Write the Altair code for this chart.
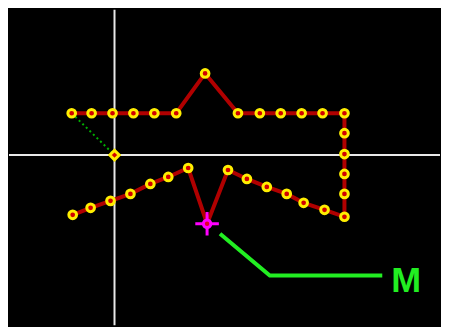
import altair as alt
import pandas as pd

# Path points (data units: origin at the crosshair, y upward)
path_x = [-43, -23, -2, 19, 40, 62, 91, 124, 146, 167, 188, 209, 231, 231, 231, 231, 231, 231,
          211, 190, 173, 153, 133, 114, 93, 74, 54, 36, 16, -4, -24, -42]
path_y = [42, 42, 42, 42, 42, 42, 82, 42, 42, 42, 42, 42, 42, 22, 1, -19, -39, -62,
          -55, -48, -39, -32, -24, -15, -69, -13, -22, -29, -39, -46, -53, -60]
marked_index = 24  # the "M" point

cursor_x = [0]
cursor_y = [0]
link_x = [-43, 0]
link_y = [42, 0]
callout_x = [106, 156, 269]
callout_y = [-79, -121, -121]
label_text = ["M"]
label_x = [293]
label_y = [-127]

X_DOM = [-106, 327]
Y_DOM = [-171, 146]

path_df = pd.DataFrame({"x": path_x, "y": path_y, "order": list(range(len(path_x)))})
pts_df = path_df.drop(index=marked_index)
cursor_df = pd.DataFrame({"x": cursor_x, "y": cursor_y})
m_df = path_df.iloc[[marked_index]]
link_df = pd.DataFrame({"x": link_x, "y": link_y, "order": [0, 1]})
callout_df = pd.DataFrame({"x": callout_x, "y": callout_y, "order": [0, 1, 2]})
label_df = pd.DataFrame({"x": label_x, "y": label_y, "t": label_text})

xs = alt.Scale(domain=X_DOM, nice=False, zero=False)
ys = alt.Scale(domain=Y_DOM, nice=False, zero=False)

def X():
    return alt.X("x:Q", scale=xs, axis=None)

def Y():
    return alt.Y("y:Q", scale=ys, axis=None)

vrule = alt.Chart(cursor_df).mark_rule(color="#e8e8e8", strokeWidth=2).encode(x=X())
hrule = alt.Chart(cursor_df).mark_rule(color="#e8e8e8", strokeWidth=2).encode(y=Y())

link = alt.Chart(link_df).mark_line(color="#00b000", strokeWidth=2, strokeDash=[2, 3]).encode(
    x=X(), y=Y(), order="order:Q")

path = alt.Chart(path_df).mark_line(color="#b00000", strokeWidth=4).encode(
    x=X(), y=Y(), order="order:Q")

pts = alt.Chart(pts_df).mark_point(shape="circle", filled=True, fill="#d00000",
                                   stroke="#ffee00", strokeWidth=3, size=60, opacity=1).encode(
    x=X(), y=Y())
cur = alt.Chart(cursor_df).mark_point(shape="diamond", filled=True, fill="#d00000",
                                      stroke="#ffee00", strokeWidth=3, size=90, opacity=1).encode(
    x=X(), y=Y())

m_cross = alt.Chart(m_df).mark_point(shape="M -1 0 L 1 0 M 0 -1 L 0 1", stroke="#ff00ff",
                                     strokeWidth=3, size=560, opacity=1, filled=False).encode(
    x=X(), y=Y())
m_disc = alt.Chart(m_df).mark_point(shape="circle", filled=True, color="#ff00ff",
                                    size=110, opacity=1).encode(x=X(), y=Y())
m_dot = alt.Chart(m_df).mark_point(shape="circle", filled=True, color="#e00020",
                                   size=20, opacity=1).encode(x=X(), y=Y())

callout = alt.Chart(callout_df).mark_line(color="#22ee22", strokeWidth=4).encode(
    x=X(), y=Y(), order="order:Q")
label = alt.Chart(label_df).mark_text(color="#22ee22", font="Liberation Sans", fontWeight="bold",
                                      fontSize=36, align="center", baseline="middle").encode(
    x=X(), y=Y(), text="t:N")

chart = alt.layer(vrule, hrule, link, path, pts, cur, m_cross, m_disc, m_dot, callout, label).properties(
    width=433, height=317, padding=0, background="black"
).configure_view(stroke=None, fill="black")

chart.save("out.html", embed_options={"renderer": "svg", "actions": False})
